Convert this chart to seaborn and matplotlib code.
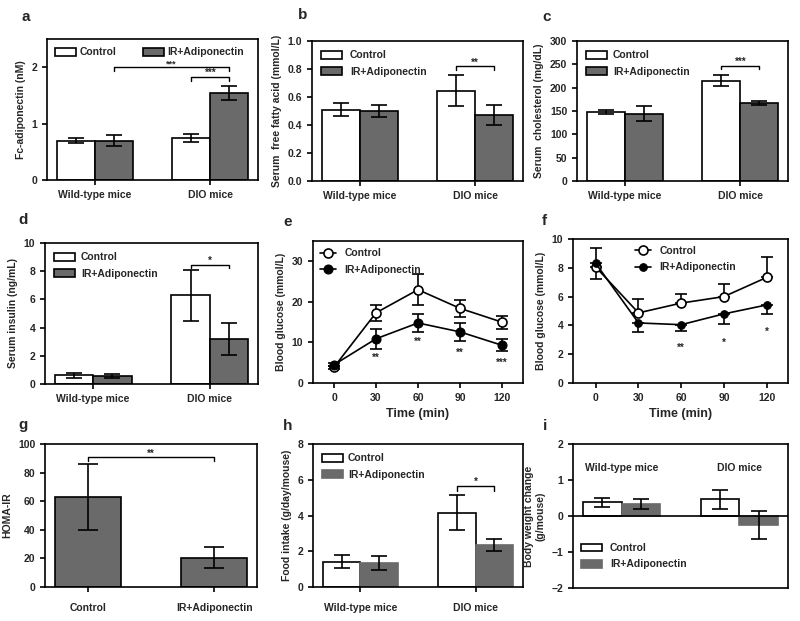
import matplotlib
matplotlib.use("Agg")
import matplotlib.pyplot as plt
import numpy as np
import pandas as pd
import seaborn as sns

groups = ["Wild-type mice", "DIO mice"]
treatments = ["Control", "IR+Adiponectin"]

# a - Fc-adiponectin (nM)
fc_ctrl = [0.70, 0.74]
fc_ctrl_err = [0.045, 0.075]
fc_ir = [0.70, 1.55]
fc_ir_err = [0.095, 0.125]

# b - serum free fatty acid (mmol/L)
ffa_ctrl = [0.51, 0.645]
ffa_ctrl_err = [0.045, 0.11]
ffa_ir = [0.50, 0.47]
ffa_ir_err = [0.043, 0.07]

# c - serum cholesterol (mg/dL)
chol_ctrl = [148, 215]
chol_ctrl_err = [4, 12]
chol_ir = [144, 168]
chol_ir_err = [16, 4.5]

# d - serum insulin (ng/mL)
ins_ctrl = [0.62, 6.3]
ins_ctrl_err = [0.18, 1.8]
ins_ir = [0.55, 3.2]
ins_ir_err = [0.14, 1.12]

# e - glucose tolerance
times = [0, 30, 60, 90, 120]
gtt_ctrl = [3.9, 17.3, 23.0, 18.4, 15.0]
gtt_ctrl_err = [0.4, 2.0, 3.8, 2.1, 1.6]
gtt_ir = [4.5, 10.9, 14.8, 12.6, 9.3]
gtt_ir_err = [0.4, 2.5, 2.15, 2.2, 1.5]
gtt_star_y = [6.9, 10.7, 8.1, 5.5]
gtt_stars = ["**", "**", "**", "***"]

# f - insulin tolerance
itt_ctrl = [8.05, 4.87, 5.55, 6.0, 7.33]
itt_ctrl_err_hi = [0.3, 0.93, 0.65, 0.85, 1.45]
itt_ir = [8.3, 4.17, 4.05, 4.8, 5.42]
itt_ir_err_lo = [1.05, 0.6, 0.45, 0.68, 0.6]
itt_ir_err_hi = [1.05, 0, 0, 0, 0]
itt_star_y = [2.6, 3.0, 3.75]
itt_stars = ["**", "*", "*"]

# g - HOMA-IR
homa = [63, 20.5]
homa_err = [23, 7.2]

# h - food intake (g/day/mouse)
food_ctrl = [1.42, 4.15]
food_ctrl_err = [0.35, 0.98]
food_ir = [1.33, 2.35]
food_ir_err = [0.4, 0.33]

# i - body weight change (g/mouse)
bw_ctrl = [0.38, 0.46]
bw_ctrl_err = [0.12, 0.26]
bw_ir = [0.33, -0.25]
bw_ir_err = [0.13, 0.39]

GRAY = "#6a6a6a"
FS = 7.5
W, H = 800, 621


def add_ax(fig, left, right, top, bottom):
    ax = fig.add_axes([left / W, 1 - bottom / H, (right - left) / W, (bottom - top) / H])
    for s in ax.spines.values():
        s.set_visible(True)
        s.set_linewidth(1.2)
        s.set_color("black")
    ax.tick_params(axis="both", labelsize=FS, width=1.2, length=3.5, color="black")
    return ax


def grouped_bars(ax, ctrl, ctrl_err, ir, ir_err, ir_edge="black"):
    df = pd.DataFrame({
        "group": groups * 2,
        "treatment": [treatments[0]] * 2 + [treatments[1]] * 2,
        "value": ctrl + ir,
    })
    sns.barplot(data=df, x="group", y="value", hue="treatment", order=groups,
                hue_order=treatments, palette={treatments[0]: "white", treatments[1]: GRAY},
                saturation=1, width=0.66, errorbar=None, edgecolor="black",
                linewidth=1.2, ax=ax)
    centers = []
    for k, (cont, vals, errs) in enumerate(zip(ax.containers, [ctrl, ir], [ctrl_err, ir_err])):
        xs = [p.get_x() + p.get_width() / 2 for p in cont]
        if k == 1 and ir_edge != "black":
            for p in cont:
                p.set_edgecolor(ir_edge)
        ax.errorbar(xs, vals, yerr=errs, fmt="none", ecolor="black", elinewidth=1.2,
                    capsize=6, capthick=1.2, zorder=5)
        centers.append(xs)
    ax.set_xlabel("")
    return centers


def bar_legend(ax, ir_edge="black", **kw):
    handles, labels = ax.get_legend_handles_labels()
    opts = dict(frameon=False, fontsize=FS, handlelength=2.0, handleheight=0.75,
                labelspacing=0.6, handletextpad=0.55)
    opts.update(kw)
    leg = ax.legend(handles, labels, **opts)
    if ir_edge != "black":
        leg.legend_handles[1].set_edgecolor(ir_edge)


def stars(ax, x, y, text):
    # star glyphs sit well above the baseline, so anchor the baseline a little below
    ax.annotate(text, (x, y), xytext=(0, -4), textcoords="offset points",
                ha="center", va="baseline", fontsize=7)


def bracket(ax, x1, x2, y, h, text, size=7):
    ax.plot([x1, x1, x2, x2], [y - h, y, y, y - h], color="black", lw=1.0)
    ax.annotate(text, ((x1 + x2) / 2, y), xytext=(0, 0.5), textcoords="offset points",
                ha="center", va="baseline", fontsize=size)


sns.set_theme(style="ticks")
plt.rcParams["font.family"] = ["Liberation Sans", "DejaVu Sans"]
plt.rcParams["font.weight"] = "bold"
plt.rcParams["axes.labelweight"] = "bold"

fig = plt.figure(figsize=(W / 100, H / 100), dpi=100)

# a
ax = add_ax(fig, 47, 258, 39, 180)
c = grouped_bars(ax, fc_ctrl, fc_ctrl_err, fc_ir, fc_ir_err)
ax.set_ylim(0, 2.5)
ax.set_yticks([0, 1, 2])
ax.set_ylabel("Fc-adiponectin (nM)", fontsize=FS)
bar_legend(ax, ncol=2, columnspacing=2.5, handletextpad=0.35, loc="upper left",
           borderaxespad=0.4)
bracket(ax, c[1][0], c[1][1], 2.0, 0.07, "***", size=6.5)
bracket(ax, c[0][1], c[1][1], 1.83, 0.07, "***")

# b
ax = add_ax(fig, 312, 523, 41, 181)
c = grouped_bars(ax, ffa_ctrl, ffa_ctrl_err, ffa_ir, ffa_ir_err)
ax.set_ylim(0, 1.0)
ax.set_yticks(np.arange(0, 1.01, 0.2))
ax.set_yticklabels([f"{v:.1f}" for v in np.arange(0, 1.01, 0.2)])
ax.set_ylabel("Serum  free fatty acid (mmol/L)", fontsize=FS)
bar_legend(ax, loc="upper left", handletextpad=0.75)
bracket(ax, c[0][1], c[1][1], 0.82, 0.028, "**")

# c
ax = add_ax(fig, 577, 788, 41, 181)
c = grouped_bars(ax, chol_ctrl, chol_ctrl_err, chol_ir, chol_ir_err)
ax.set_ylim(0, 300)
ax.set_yticks(range(0, 301, 50))
ax.set_ylabel("Serum  cholesterol (mg/dL)", fontsize=FS)
bar_legend(ax, loc="upper left")
bracket(ax, c[0][1], c[1][1], 247, 8, "***")

# d
ax = add_ax(fig, 45, 258, 243, 384)
c = grouped_bars(ax, ins_ctrl, ins_ctrl_err, ins_ir, ins_ir_err)
ax.set_ylim(0, 10)
ax.set_yticks(range(0, 11, 2))
ax.set_ylabel("Serum insulin (ng/mL)", fontsize=FS)
bar_legend(ax, loc="upper left")
bracket(ax, c[0][1], c[1][1], 8.47, 0.25, "*")

# e
ax = add_ax(fig, 313, 523, 241, 383)
ax.errorbar(times, gtt_ctrl, yerr=gtt_ctrl_err, fmt="none", ecolor="black",
            elinewidth=1.2, capsize=4.3, capthick=1.2)
ax.errorbar(times, gtt_ir, yerr=gtt_ir_err, fmt="none", ecolor="black",
            elinewidth=1.2, capsize=4.3, capthick=1.2)
sns.lineplot(x=times, y=gtt_ctrl, color="black", lw=1.2, marker="o", markersize=6.5,
             markerfacecolor="white", markeredgecolor="black", markeredgewidth=1.2,
             label="Control", ax=ax, zorder=4)
sns.lineplot(x=times, y=gtt_ir, color="black", lw=1.2, marker="o", markersize=6.5,
             markerfacecolor="black", markeredgecolor="black",
             label="IR+Adiponectin", ax=ax, zorder=4)
for t, y, s in zip(times[1:], gtt_star_y, gtt_stars):
    stars(ax, t, y, s)
ax.set_xlim(-15, 135)
ax.set_ylim(0, 35)
ax.set_xticks(times)
ax.set_yticks([0, 10, 20, 30])
ax.set_xlabel("Time (min)", fontsize=9)
ax.set_ylabel("Blood glucose (mmol/L)", fontsize=FS)
ax.legend(frameon=False, fontsize=FS, loc="upper left", handlelength=1.5,
          borderaxespad=0.3, labelspacing=0.6)

# f
ax = add_ax(fig, 573, 788, 239, 383)
ax.errorbar(times, itt_ctrl, yerr=[[0] * 5, itt_ctrl_err_hi], fmt="none", ecolor="black",
            elinewidth=1.2, capsize=4.3, capthick=1.2)
ax.errorbar(times, itt_ir, yerr=[itt_ir_err_lo, itt_ir_err_hi], fmt="none", ecolor="black",
            elinewidth=1.2, capsize=4.3, capthick=1.2)
sns.lineplot(x=times, y=itt_ctrl, color="black", lw=1.2, marker="o", markersize=6.5,
             markerfacecolor="white", markeredgecolor="black", markeredgewidth=1.2,
             label="Control", ax=ax, zorder=4)
sns.lineplot(x=times, y=itt_ir, color="black", lw=1.2, marker="o", markersize=5.5,
             markerfacecolor="black", markeredgecolor="black",
             label="IR+Adiponectin", ax=ax, zorder=4)
for t, y, s in zip(times[2:], itt_star_y, itt_stars):
    stars(ax, t, y, s)
ax.set_xlim(-16, 135)
ax.set_ylim(0, 10)
ax.set_xticks(times)
ax.set_yticks(range(0, 11, 2))
ax.set_xlabel("Time (min)", fontsize=9)
ax.set_ylabel("Blood glucose (mmol/L)", fontsize=FS)
ax.legend(frameon=False, fontsize=FS, loc="upper left", bbox_to_anchor=(0.27, 0.98),
          handlelength=1.5, borderaxespad=0, labelspacing=0.6)

# g
ax = add_ax(fig, 45, 257, 444, 587)
sns.barplot(x=treatments, y=homa, color=GRAY, saturation=1, width=0.52,
            edgecolor="black", linewidth=1.2, errorbar=None, ax=ax)
xs = [p.get_x() + p.get_width() / 2 for p in ax.patches]
ax.errorbar(xs, homa, yerr=homa_err, fmt="none", ecolor="black", elinewidth=1.2,
            capsize=7, capthick=1.2, zorder=5)
ax.set_ylim(0, 100)
ax.set_yticks(range(0, 101, 20))
ax.set_ylabel("HOMA-IR", fontsize=FS)
ax.tick_params(axis="x", pad=8)
bracket(ax, xs[0], xs[1], 90.6, 2.8, "**")

# h
ax = add_ax(fig, 313, 523, 444, 587)
c = grouped_bars(ax, food_ctrl, food_ctrl_err, food_ir, food_ir_err, ir_edge=GRAY)
ax.set_ylim(0, 8)
ax.set_yticks(range(0, 9, 2))
ax.set_ylabel("Food intake (g/day/mouse)", fontsize=FS)
ax.tick_params(axis="x", pad=8)
bar_legend(ax, ir_edge=GRAY, loc="upper left", handletextpad=0.45)
bracket(ax, c[0][1], c[1][1], 5.65, 0.28, "*")

# i
ax = add_ax(fig, 573, 788, 444, 588)
c = grouped_bars(ax, bw_ctrl, bw_ctrl_err, bw_ir, bw_ir_err, ir_edge=GRAY)
ax.axhline(0, color="black", lw=1.2)
ax.set_ylim(-2, 2)
ax.set_yticks([-2, -1, 0, 1, 2])
ax.set_xticks([])
ax.set_ylabel("Body weight change\n(g/mouse)", fontsize=FS)
for k, g in enumerate(groups):
    ax.text((c[0][k] + c[1][k]) / 2, 1.33, g, ha="center", va="center", fontsize=FS)
bar_legend(ax, ir_edge=GRAY, loc="lower left", bbox_to_anchor=(0.02, 0.1),
           borderaxespad=0, handletextpad=0.75)

# panel letters
for letter, x, y in [("a", 21, 21), ("b", 298, 19), ("c", 542, 21),
                     ("d", 18, 224), ("e", 283, 226), ("f", 542, 225),
                     ("g", 18, 429), ("h", 283, 430), ("i", 543, 430)]:
    fig.text(x / W, 1 - y / H, letter, fontsize=11, fontweight="bold",
             ha="left", va="baseline")

fig.savefig("out.png", dpi=100)
